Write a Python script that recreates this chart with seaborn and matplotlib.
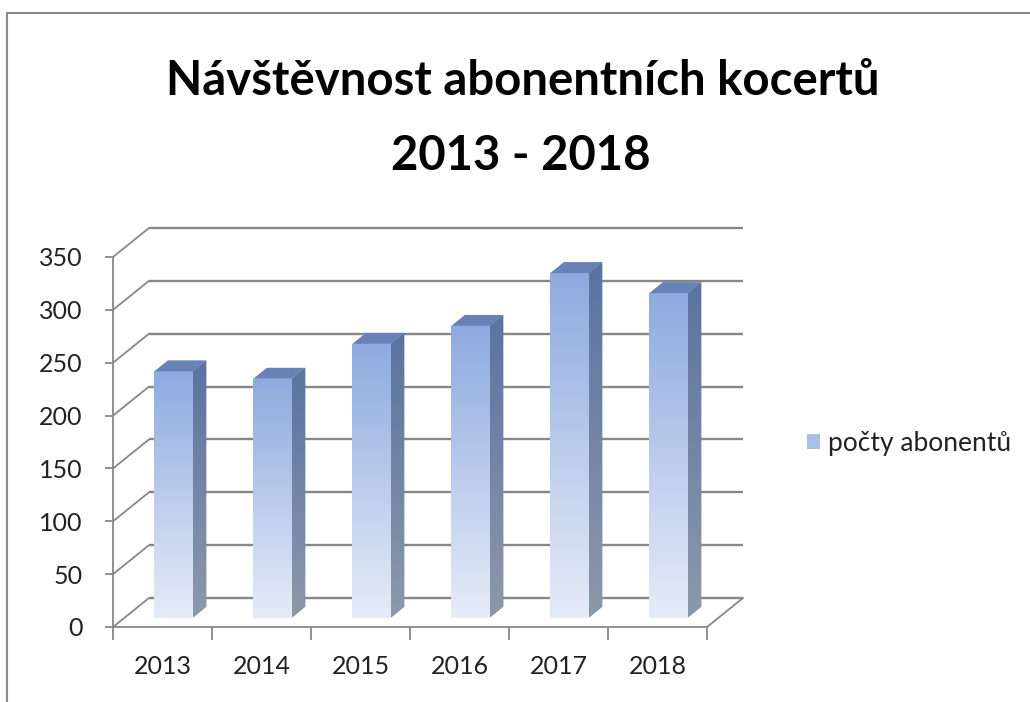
import numpy as np
import pandas as pd
import matplotlib
matplotlib.use('Agg')
import matplotlib.pyplot as plt
import seaborn as sns
from matplotlib.colors import LinearSegmentedColormap
from matplotlib.patches import Polygon, Patch
from matplotlib.lines import Line2D

# ---- data ----
years = ['2013', '2014', '2015', '2016', '2017', '2018']
values = [233, 226, 259, 276, 326, 307]
series_label = 'počty abonentů'
title_lines = ['Návštěvnost abonentních kocertů', '2013 - 2018']
yticks = [0, 50, 100, 150, 200, 250, 300, 350]

sns.set_theme(style='white')
plt.rcParams['font.family'] = ['Lato', 'DejaVu Sans']

W, H = 1030, 702
fig = plt.figure(figsize=(W / 100, H / 100), dpi=100)
fig.patch.set_facecolor('white')
L, R, B, T = 113, 707, 627, 257
ax = fig.add_axes([L / W, 1 - B / H, (R - L) / W, (B - T) / H])
ax.set_facecolor('none')

df = pd.DataFrame({'year': years, 'value': values})
sns.barplot(data=df, x='year', y='value', width=0.388, color='#a9bfe6',
            ax=ax, zorder=5, edgecolor='none', linewidth=0, errorbar=None)

ncat = len(years)
ymax = yticks[-1]
ax.set_xlim(-0.5, ncat - 0.5)
ax.set_ylim(0, ymax)
pxx = (R - L) / ncat
pxy = (B - T) / ymax


def off(px, py):
    return px / pxx, py / pxy


grid_c = '#878787'
bwx, bwy = off(36, 29)      # back wall depth
fdx, fdy = off(11, 9.3)      # bar front face depth
bdx, bdy = off(24.5, 20.3)   # bar back face depth

# back wall gridlines + left wall diagonals
for v in yticks:
    ax.plot([-0.5 + bwx, ncat - 0.5 + bwx], [v + bwy, v + bwy], color=grid_c,
            lw=1.7, zorder=1, clip_on=False, solid_capstyle='butt')
    ax.plot([-0.5, -0.5 + bwx], [v, v + bwy], color=grid_c, lw=1.3,
            zorder=1, clip_on=False)
# floor right edge
ax.plot([ncat - 0.5, ncat - 0.5 + bwx], [0, bwy], color=grid_c, lw=1.3,
        zorder=1, clip_on=False)


def grad_fill(patch, c_top, c_bot, z):
    if isinstance(patch, Polygon):
        verts = patch.get_xy()
    else:
        verts = patch.get_path().transformed(patch.get_patch_transform()).vertices
    x0, x1 = verts[:, 0].min(), verts[:, 0].max()
    y0, y1 = verts[:, 1].min(), verts[:, 1].max()
    cmap = LinearSegmentedColormap.from_list('g', [c_top, c_bot])
    grad = np.linspace(0, 1, 256)[:, None]
    im = ax.imshow(grad, extent=[x0, x1, y0, y1], origin='upper', cmap=cmap,
                   aspect='auto', zorder=z, interpolation='bilinear')
    im.set_clip_path(patch)
    return im


bars = list(ax.patches)
for p in bars:
    x = p.get_x()
    w = p.get_width()
    h = p.get_height()
    p.set_x(x + fdx)
    p.set_y(fdy)
    p.set_clip_on(False)
    xr = x + fdx + w
    side = Polygon([[xr, fdy], [xr, fdy + h], [x + bdx + w, bdy + h], [x + bdx + w, bdy]],
                   closed=True, facecolor='#6f84a8', edgecolor='none', zorder=5,
                   clip_on=False)
    ax.add_patch(side)
    top = Polygon([[x + fdx, fdy + h], [xr, fdy + h], [x + bdx + w, bdy + h], [x + bdx, bdy + h]],
                  closed=True, facecolor='#6882b8', edgecolor='none', zorder=6,
                  clip_on=False)
    ax.add_patch(top)
    grad_fill(p, '#8eaadf', '#e6ecf7', 5.5)
    grad_fill(side, '#5b73a2', '#8d98aa', 5.5)

ax.set_xlim(-0.5, ncat - 0.5)
ax.set_ylim(0, ymax)

# spines & ticks
for s in ['top', 'right']:
    ax.spines[s].set_visible(False)
for s in ['left', 'bottom']:
    ax.spines[s].set_color(grid_c)
    ax.spines[s].set_linewidth(1.3)
    ax.spines[s].set_zorder(2)
ax.set_yticks(yticks)
ax.set_yticklabels([str(v) for v in yticks])
ax.set_xticks(range(ncat))
ax.set_xticklabels(years)
ax.set_xticks(np.arange(-0.5, ncat, 1.0), minor=True)
ax.tick_params(axis='y', which='major', direction='out', length=6, width=1.3,
               color=grid_c, labelsize=18, labelcolor='#222222', pad=16, left=True)
ax.tick_params(axis='x', which='major', length=0, labelsize=18,
               labelcolor='#222222', pad=20)
ax.tick_params(axis='x', which='minor', direction='out', length=9, width=1.3,
               color=grid_c, bottom=True)
ax.set_xlabel('')
ax.set_ylabel('')
ax.grid(False)

# title
fig.text(523 / W, 1 - 95 / H, title_lines[0], ha='center', va='baseline',
         fontsize=34, fontweight='bold', color='black')
fig.text(521 / W, 1 - 170 / H, title_lines[1], ha='center', va='baseline',
         fontsize=34, fontweight='bold', color='black')

# legend
handle = Patch(facecolor='#aabfe4', edgecolor='none')
fig.legend([handle], [series_label], loc='center left',
           bbox_to_anchor=(794 / W, 1 - 443 / H), frameon=False,
           fontsize=19, handlelength=0.5, handleheight=0.5, handletextpad=0.3,
           borderpad=0, labelcolor='#222222')

# outer chart border (top and left edges)
fig.add_artist(Line2D([7 / W, 1], [1 - 13 / H, 1 - 13 / H], color='#8a8a8a', lw=1.5))
fig.add_artist(Line2D([7 / W, 7 / W], [1 - 13 / H, 0], color='#8a8a8a', lw=1.5))

fig.savefig('out.png', dpi=100, facecolor='white')
